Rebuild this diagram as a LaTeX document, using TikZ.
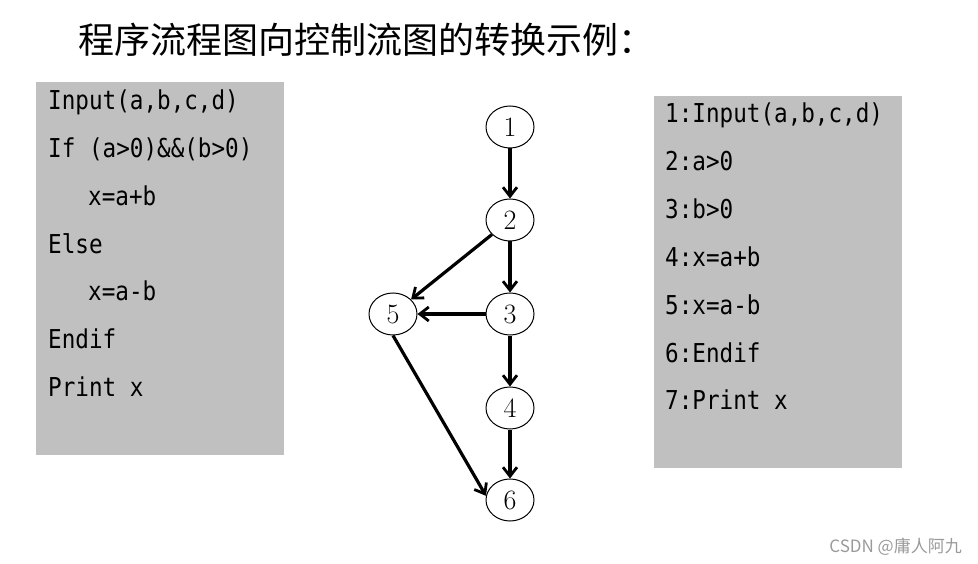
\documentclass[tikz,border=0pt]{standalone}
\usepackage{fontspec}
\usepackage{xcolor}
\usepackage{tikz}
\usetikzlibrary{arrows.meta,shapes.geometric}
\newfontfamily\cjk{Noto Sans CJK SC}
\newfontfamily\codefont[FakeStretch=0.87]{DejaVu Sans Mono}
\definecolor{boxgray}{HTML}{C0C0C0}
\definecolor{markgray}{HTML}{9A9A9A}
\tikzset{
  codeline/.style={anchor=base west, inner sep=0pt, font=\codefont\fontsize{26}{30}\selectfont},
  cfgnode/.style={draw, ellipse, line width=1pt, minimum width=48pt, minimum height=42pt,
                  inner sep=0pt, font=\fontsize{28}{32}\selectfont},
  cfgedge/.style={line width=3.2pt, -{Straight Barb[length=9pt, width=14pt, line width=2.8pt]}}
}

\begin{document}
\begin{tikzpicture}[x=1pt, y=-1pt]
  \useasboundingbox (0,0) rectangle (978,564);

  % -- title ---------------------------------------------------------------
  \node[anchor=west, inner sep=0pt, font=\cjk\fontsize{36}{40}\selectfont] (title) at (78,40)
    {程序流程图向控制流图的转换示例：};

  % -- the program on the left ---------------------------------------------
  \fill[boxgray] (36,82) rectangle (284,455);
  \foreach \k/\dx/\txt in {1/0/{Input(a,b,c,d)}, 2/0/{If (a>0)\&\&(b>0)}, 3/40/{x=a+b},
                           4/0/{Else}, 5/40/{x=a-b}, 6/0/{Endif}, 7/0/{Print x}}{
    \node[codeline] (l\k) at ({48+\dx},{110+47.7*(\k-1)}) {\txt};}

  % -- the numbered statements on the right --------------------------------
  \fill[boxgray] (654,96) rectangle (902,468);
  \foreach \k/\txt in {1/{Input(a,b,c,d)}, 2/{a>0}, 3/{b>0}, 4/{x=a+b},
                       5/{x=a-b}, 6/{Endif}, 7/{Print x}}{
    \node[codeline] (r\k) at (665,{123+47.8*(\k-1)}) {\k:\txt};}

  % -- the control flow graph ----------------------------------------------
  \node[cfgnode] (n1) at (510,127) {1};
  \node[cfgnode] (n2) at (510,220) {2};
  \node[cfgnode] (n3) at (510,314) {3};
  \node[cfgnode] (n4) at (510,408) {4};
  \node[cfgnode] (n5) at (393,314) {5};
  \node[cfgnode] (n6) at (510,500) {6};

  \draw[cfgedge] (n1) -- (n2);
  \draw[cfgedge] (n2) -- (n3);
  \draw[cfgedge] (n3) -- (n4);
  \draw[cfgedge] (n4) -- (n6);
  \draw[cfgedge] (n2) -- (n5);
  \draw[cfgedge] (n3) -- (n5);
  \draw[cfgedge] (n5.south) -- (n6.170);

  % -- watermark -----------------------------------------------------------
  \node[anchor=east, inner sep=0pt, text=markgray, font=\cjk\fontsize{17}{20}\selectfont] (mark)
    at (962,547) {CSDN @庸人阿九};

\end{tikzpicture}
\end{document}
